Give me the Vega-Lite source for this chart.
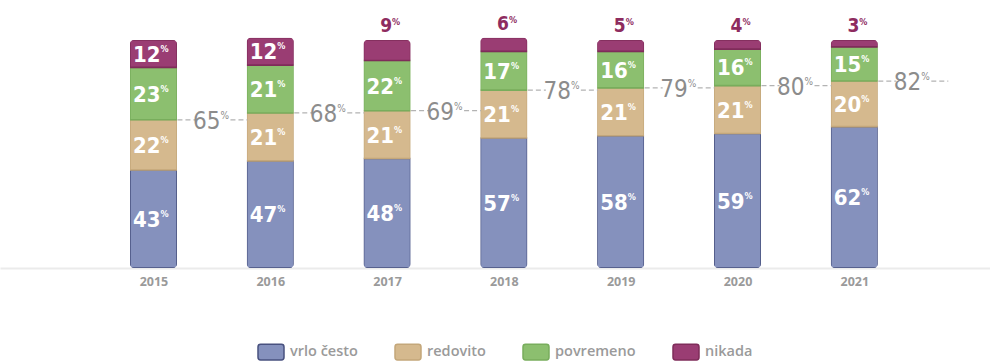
{
  "$schema": "https://vega.github.io/schema/vega-lite/v6.json",
  "width": 990,
  "height": 228,
  "autosize": {"type": "none"},
  "padding": {"left": 0, "top": 40, "right": 0, "bottom": 95},
  "background": "white",
  "config": {"view": {"stroke": null}},
  "data": {
    "values": [
      {"year": 2015, "kat": "vrlo često", "value": 43},
      {"year": 2015, "kat": "redovito", "value": 22},
      {"year": 2015, "kat": "povremeno", "value": 23},
      {"year": 2015, "kat": "nikada", "value": 12},
      {"year": 2016, "kat": "vrlo često", "value": 47},
      {"year": 2016, "kat": "redovito", "value": 21},
      {"year": 2016, "kat": "povremeno", "value": 21},
      {"year": 2016, "kat": "nikada", "value": 12},
      {"year": 2017, "kat": "vrlo često", "value": 48},
      {"year": 2017, "kat": "redovito", "value": 21},
      {"year": 2017, "kat": "povremeno", "value": 22},
      {"year": 2017, "kat": "nikada", "value": 9},
      {"year": 2018, "kat": "vrlo često", "value": 57},
      {"year": 2018, "kat": "redovito", "value": 21},
      {"year": 2018, "kat": "povremeno", "value": 17},
      {"year": 2018, "kat": "nikada", "value": 6},
      {"year": 2019, "kat": "vrlo često", "value": 58},
      {"year": 2019, "kat": "redovito", "value": 21},
      {"year": 2019, "kat": "povremeno", "value": 16},
      {"year": 2019, "kat": "nikada", "value": 5},
      {"year": 2020, "kat": "vrlo često", "value": 59},
      {"year": 2020, "kat": "redovito", "value": 21},
      {"year": 2020, "kat": "povremeno", "value": 16},
      {"year": 2020, "kat": "nikada", "value": 4},
      {"year": 2021, "kat": "vrlo često", "value": 62},
      {"year": 2021, "kat": "redovito", "value": 20},
      {"year": 2021, "kat": "povremeno", "value": 15},
      {"year": 2021, "kat": "nikada", "value": 3}
    ]
  },
  "encoding": {
    "x": {
      "field": "year",
      "type": "quantitative",
      "scale": {"domain": [2013.729, 2022.119], "nice": false, "zero": false},
      "axis": {
        "title": null,
        "values": [2015, 2016, 2017, 2018, 2019, 2020, 2021],
        "format": "d",
        "ticks": false,
        "grid": false,
        "domainColor": "#ebebeb",
        "domainWidth": 2,
        "labelColor": "#9a9a9a",
        "labelFont": "Open Sans",
        "labelFontWeight": 700,
        "labelFontSize": 12.5,
        "labelPadding": 7
      }
    }
  },
  "layer": [
    {
      "mark": {"type": "bar", "width": 47, "cornerRadius": 4, "strokeWidth": 1.6},
      "encoding": {
        "y": {
          "field": "value",
          "type": "quantitative",
          "stack": "zero",
          "scale": {"domain": [0, 100], "nice": false},
          "axis": null
        },
        "order": {"field": "kat", "sort": "descending"},
        "color": {
          "field": "kat",
          "type": "nominal",
          "scale": {
            "domain": ["vrlo često", "redovito", "povremeno", "nikada"],
            "range": ["#8591bd", "#d5b98e", "#8cbf6f", "#9a3d73"]
          },
          "legend": {
            "title": null,
            "orient": "none",
            "legendX": 257,
            "legendY": 298,
            "direction": "horizontal",
            "symbolType": "M-0.8,-0.6H0.8A0.2,0.2 0 0 1 1,-0.4V0.4A0.2,0.2 0 0 1 0.8,0.6H-0.8A0.2,0.2 0 0 1 -1,0.4V-0.4A0.2,0.2 0 0 1 -0.8,-0.6Z",
            "symbolSize": 676,
            "symbolStrokeWidth": 1.5,
            "labelFont": "Open Sans",
            "labelFontSize": 14.5,
            "labelFontWeight": 600,
            "labelColor": "#9a9a9a",
            "labelOffset": 5,
            "columnPadding": 34
          }
        },
        "stroke": {
          "field": "kat",
          "type": "nominal",
          "scale": {
            "domain": ["vrlo često", "redovito", "povremeno", "nikada"],
            "range": ["#48517f", "#c4a77a", "#78ad5c", "#7f2c5a"]
          },
          "legend": {
            "title": null,
            "orient": "none",
            "legendX": 257,
            "legendY": 298,
            "direction": "horizontal",
            "symbolType": "M-0.8,-0.6H0.8A0.2,0.2 0 0 1 1,-0.4V0.4A0.2,0.2 0 0 1 0.8,0.6H-0.8A0.2,0.2 0 0 1 -1,0.4V-0.4A0.2,0.2 0 0 1 -0.8,-0.6Z",
            "symbolSize": 676,
            "symbolStrokeWidth": 1.5,
            "labelFont": "Open Sans",
            "labelFontSize": 14.5,
            "labelFontWeight": 600,
            "labelColor": "#9a9a9a",
            "labelOffset": 5,
            "columnPadding": 34
          }
        }
      }
    },
    {
      "mark": {
        "type": "text",
        "align": "right",
        "baseline": "middle",
        "xOffset": 7,
        "dy": 1,
        "font": "Liberation Sans Narrow, DejaVu Sans Condensed, sans-serif",
        "fontWeight": "bold",
        "fontSize": 22,
        "color": "white"
      },
      "encoding": {
        "y": {"field": "value", "type": "quantitative", "stack": "zero", "bandPosition": 0.5},
        "order": {"field": "kat", "sort": "descending"},
        "detail": {"field": "kat"},
        "text": {"field": "value", "type": "quantitative"},
        "opacity": {"condition": {"test": "datum.value >= 10", "value": 1}, "value": 0}
      }
    },
    {
      "mark": {
        "type": "text",
        "text": "%",
        "align": "left",
        "baseline": "middle",
        "xOffset": 7,
        "dy": -5,
        "font": "Liberation Sans Narrow, DejaVu Sans Condensed, sans-serif",
        "fontWeight": "bold",
        "fontSize": 9,
        "color": "white"
      },
      "encoding": {
        "y": {"field": "value", "type": "quantitative", "stack": "zero", "bandPosition": 0.5},
        "order": {"field": "kat", "sort": "descending"},
        "detail": {"field": "kat"},
        "opacity": {"condition": {"test": "datum.value >= 10", "value": 1}, "value": 0}
      }
    },
    {
      "mark": {
        "type": "text",
        "align": "right",
        "baseline": "middle",
        "xOffset": 5,
        "dy": -14,
        "font": "Liberation Sans Narrow, DejaVu Sans Condensed, sans-serif",
        "fontWeight": "bold",
        "fontSize": 19,
        "color": "#8e2c5f"
      },
      "encoding": {
        "y": {"field": "value", "type": "quantitative", "stack": "zero"},
        "order": {"field": "kat", "sort": "descending"},
        "detail": {"field": "kat"},
        "text": {"field": "value", "type": "quantitative"},
        "opacity": {"condition": {"test": "datum.kat === 'nikada' && datum.value < 10", "value": 1}, "value": 0}
      }
    },
    {
      "mark": {
        "type": "text",
        "text": "%",
        "align": "left",
        "baseline": "middle",
        "xOffset": 5,
        "dy": -18,
        "font": "Liberation Sans Narrow, DejaVu Sans Condensed, sans-serif",
        "fontWeight": "bold",
        "fontSize": 9,
        "color": "#8e2c5f"
      },
      "encoding": {
        "y": {"field": "value", "type": "quantitative", "stack": "zero"},
        "order": {"field": "kat", "sort": "descending"},
        "detail": {"field": "kat"},
        "opacity": {"condition": {"test": "datum.kat === 'nikada' && datum.value < 10", "value": 1}, "value": 0}
      }
    },
    {
      "transform": [
        {"filter": {"field": "kat", "oneOf": ["vrlo često", "redovito"]}},
        {"aggregate": [{"op": "sum", "field": "value", "as": "base"}], "groupby": ["year"]}
      ],
      "layer": [
        {
          "mark": {"type": "rule", "xOffset": 24, "x2Offset": 42, "strokeDash": [5, 3], "color": "#b3b3b3", "strokeWidth": 1.3},
          "encoding": {
            "x2": {"field": "year"},
            "y": {"field": "base", "type": "quantitative"}
          }
        },
        {
          "mark": {"type": "rule", "xOffset": 77, "x2Offset": 94, "strokeDash": [5, 3], "color": "#b3b3b3", "strokeWidth": 1.3},
          "encoding": {
            "x2": {"field": "year"},
            "y": {"field": "base", "type": "quantitative"}
          }
        },
        {
          "mark": {
            "type": "text",
            "align": "right",
            "baseline": "middle",
            "xOffset": 67,
            "dy": 2,
            "font": "Liberation Sans Narrow, DejaVu Sans Condensed, sans-serif",
            "fontSize": 24,
            "color": "#8c8c8c"
          },
          "encoding": {
            "y": {"field": "base", "type": "quantitative"},
            "text": {"field": "base", "type": "quantitative"}
          }
        },
        {
          "mark": {
            "type": "text",
            "text": "%",
            "align": "left",
            "baseline": "middle",
            "xOffset": 67,
            "dy": -4,
            "font": "Liberation Sans Narrow, DejaVu Sans Condensed, sans-serif",
            "fontSize": 10,
            "color": "#8c8c8c"
          },
          "encoding": {
            "y": {"field": "base", "type": "quantitative"}
          }
        }
      ]
    }
  ]
}
